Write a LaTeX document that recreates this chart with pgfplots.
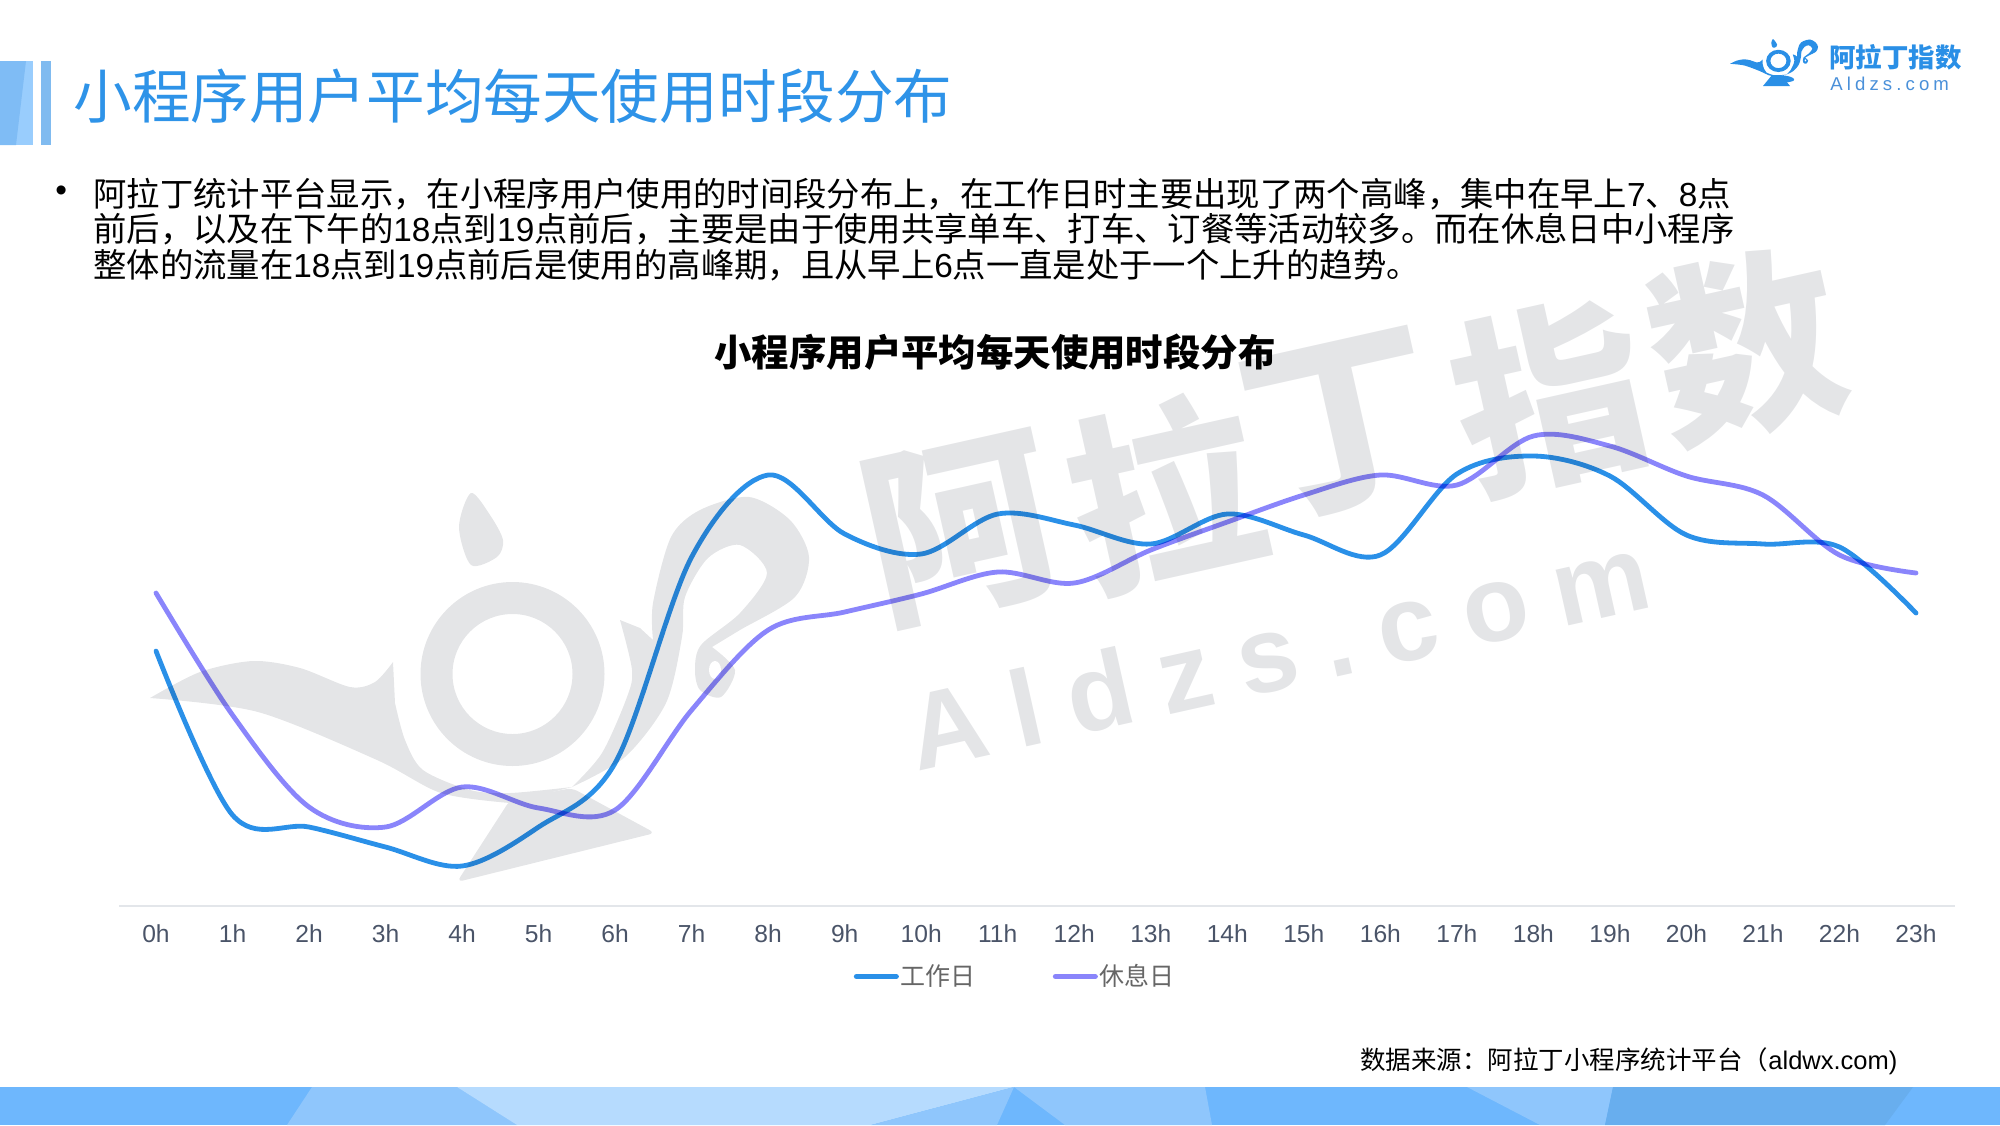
\documentclass[border=0pt]{standalone}
\usepackage{fontspec}
\usepackage{pgfplots}
\pgfplotsset{compat=1.18}
\setmainfont{Liberation Sans}
\newfontfamily\cjk{Noto Sans CJK SC}
\newfontfamily\lat{Liberation Sans}
\newfontfamily\spaced[LetterSpace=25]{Liberation Sans}
\newfontfamily\spacedb[LetterSpace=22]{Liberation Sans}
\newcommand{\dg}[1]{{\lat #1}}
\definecolor{wm}{HTML}{E4E5E7}
\definecolor{bluet}{HTML}{2E93E8}
\definecolor{serw}{HTML}{2A90E8}
\definecolor{serr}{HTML}{8A85FB}
\definecolor{axc}{HTML}{E3E6EA}
\definecolor{tickc}{HTML}{4A5468}
\definecolor{bb}{HTML}{6EB7FD}
\definecolor{bm}{HTML}{8FC6FC}
\definecolor{bl}{HTML}{B6DBFE}
\definecolor{bd}{HTML}{68AEEE}
\definecolor{bara}{HTML}{99CDFD}
\definecolor{barb}{HTML}{7FBCF5}
\definecolor{barc}{HTML}{80BBF0}
\definecolor{legt}{HTML}{666666}
\definecolor{logoa}{HTML}{2A8FE6}
\definecolor{logob}{HTML}{4A90D9}
\pgfplotstableread{
h work rest
0 255 313
1 91 191
2 79 99
3 59 79
4 40 119
5 79 98
6 143 96
7 349 196
8 431 276
9 372 294
10 352 312
11 392 334
12 381 323
13 362 356
14 392 384
15 371 411
16 351 431
17 432 421
18 450 470
19 430 460
20 371 430
21 362 411
22 359 351
23 293 333
}\hours
\newcommand{\lamp}[1]{%
  \fill[#1] plot[smooth] coordinates {(150,698)(200,672)(253,661)(300,668)(350,687)(375,682)(393,662)}
     -- plot[smooth] coordinates {(395,703)(405,740)(423,770)(470,790)(510,793)(572,787)}
     -- plot[smooth] coordinates {(510,803)(441,793)(377,760)(258,712)(150,698)} -- cycle;
  \fill[#1,rounded corners=3] (510,800) -- (457,882) -- (655,833) -- (572,788) -- cycle;
  \fill[#1,even odd rule] (512.5,674) circle (92) (512.5,674) circle (60);
  \fill[#1] plot[smooth cycle] coordinates {(471,493)(490,515)(503,540)(497,557)(471,565)(459,527)};
  \fill[#1] plot[smooth] coordinates {(653,640)(653,603)(671,537)(700,510)(749,497)(790,520)(809,557)(795,597)(740,630)(712,647)}
     -- plot[smooth] coordinates {(712,647)(735,670)(721,697)(700,690)(695,670)(701,645)(740,613)(767,573)(740,545)(708,558)(685,597)(682,637)(666,703)(625,757)(572,787)}
     -- plot[smooth] coordinates {(572,787)(602,753)(627,697)(632,670)(620,620)}
     -- (640,628) -- cycle;
  \fill[white] (715,670) ellipse (6 and 9);
}
\begin{document}
\begin{tikzpicture}
\begin{scope}[x=0.5pt,y=-0.5pt]
\path[use as bounding box] (0,0) rectangle (2000,1125);
% watermark
\lamp{wm}
\begin{scope}[font=\fontsize{96pt}{96pt}\cjk\bfseries,text=wm]
\node[rotate=12.6] at (960,528) {阿};
\node[rotate=12.6] at (1165,492) {拉};
\node[rotate=12.6] at (1342,426) {丁};
\node[rotate=12.6] at (1550,396) {指};
\node[rotate=12.6] at (1746,346) {数};
\end{scope}
\node[rotate=12.6,text=wm,font=\fontsize{54pt}{54pt}\spaced\bfseries] at (1278,651) {Aldzs.com};
% banner
\fill[bb] (0,1087) rectangle (2000,1125);
\fill[bm] (312,1087) -- (457,1087) -- (517,1125) -- (287,1125) -- cycle;
\fill[bl] (457,1087) -- (1014,1087) -- (871,1125) -- (517,1125) -- cycle;
\fill[bm] (1014,1087) -- (871,1125) -- (997,1125) -- cycle;
\fill[bm] (1014,1087) -- (1205,1087) -- (1212,1125) -- (1065,1125) -- cycle;
\fill[bm] (1467,1087) -- (1613,1087) -- (1605,1125) -- (1540,1125) -- cycle;
\fill[bd] (1613,1087) -- (1913,1087) -- (1885,1125) -- (1605,1125) -- cycle;
% title bars
\fill[bara] (0,61) rectangle (33,145);
\fill[barb] (0,61) -- (26,61) -- (16,145) -- (0,145) -- cycle;
\fill[barc] (41,61) rectangle (51,145);
\end{scope}
\begin{axis}[
  at={(59.5pt,-453pt)}, anchor=south west,
  scale only axis, width=918pt, height=250pt,
  xmin=-0.4835, xmax=23.51, ymin=0, ymax=500,
  axis x line*=bottom, axis y line=none,
  axis line style={-,color=axc,line width=0.6pt},
  xtick={0,...,23},
  xticklabels={0h,1h,2h,3h,4h,5h,6h,7h,8h,9h,10h,11h,12h,13h,14h,15h,16h,17h,18h,19h,20h,21h,22h,23h},
  xtick style={draw=none},
  xticklabel style={font=\fontsize{12.3pt}{14pt}\selectfont,text=tickc,yshift=-5.9pt},
  clip=false,
  legend columns=2,
  legend style={at={(0.4882,-0.141)},anchor=center,draw=none,fill=none,
    font=\fontsize{12.5pt}{14pt}\cjk,text=legt,
    nodes={inner xsep=1pt},
    /tikz/every even column/.append style={column sep=37.5pt}},
  legend image code/.code={\draw[#1,line width=2.5pt,line cap=round] (0pt,0pt) -- (20pt,0pt);},
]
\addplot[color=serw,line width=2.4pt,line cap=round,smooth,tension=0.55,/tikz/blend mode=multiply] table[x=h,y=work] {\hours};
\addlegendentry{工作日}
\addplot[color=serr,line width=2.4pt,line cap=round,smooth,tension=0.55,/tikz/blend mode=multiply] table[x=h,y=rest] {\hours};
\addlegendentry{休息日}
\end{axis}
\begin{scope}[x=0.5pt,y=-0.5pt]
% logo
\begin{scope}[shift={(1730,39)},xscale=0.1335,yscale=0.121,shift={(-150,-493)}]
\lamp{logoa}
\end{scope}
\fill[logoa] (1763,86) -- (1790,86) -- (1781,75) -- (1772,75) -- cycle;
\node[anchor=west,inner sep=0,text=logoa,font=\fontsize{13.2pt}{14pt}\cjk\bfseries] at (1829,57) {阿拉丁指数};
\node[anchor=west,inner sep=0,text=logob,font=\fontsize{9.3pt}{10pt}\spacedb] at (1830,84) {Aldzs.com};
% title
\node[anchor=west,inner sep=0,text=bluet,font=\fontsize{29.3pt}{32pt}\cjk] at (73,96) {小程序用户平均每天使用时段分布};
% body
\begin{scope}[every node/.style={anchor=west,inner sep=0,font=\fontsize{16.67pt}{18pt}\cjk,text=black}]
\node at (55,194) {\lat •};
\node at (93,194) {阿拉丁统计平台显示，在小程序用户使用的时间段分布上，在工作日时主要出现了两个高峰，集中在早上\dg{7}、\dg{8}点};
\node at (93,229) {前后，以及在下午的\dg{18}点到\dg{19}点前后，主要是由于使用共享单车、打车、订餐等活动较多。而在休息日中小程序};
\node at (93,265) {整体的流量在\dg{18}点到\dg{19}点前后是使用的高峰期，且从早上\dg{6}点一直是处于一个上升的趋势。};
\end{scope}
\node[inner sep=0,font=\fontsize{18.7pt}{20pt}\cjk\bfseries,text=black] at (995,352) {小程序用户平均每天使用时段分布};
\node[anchor=west,inner sep=0,font=\fontsize{12.75pt}{15pt}\cjk,text=black] at (1360,1061) {数据来源：阿拉丁小程序统计平台（\dg{aldwx.com)}};
\end{scope}
\end{tikzpicture}
\end{document}
